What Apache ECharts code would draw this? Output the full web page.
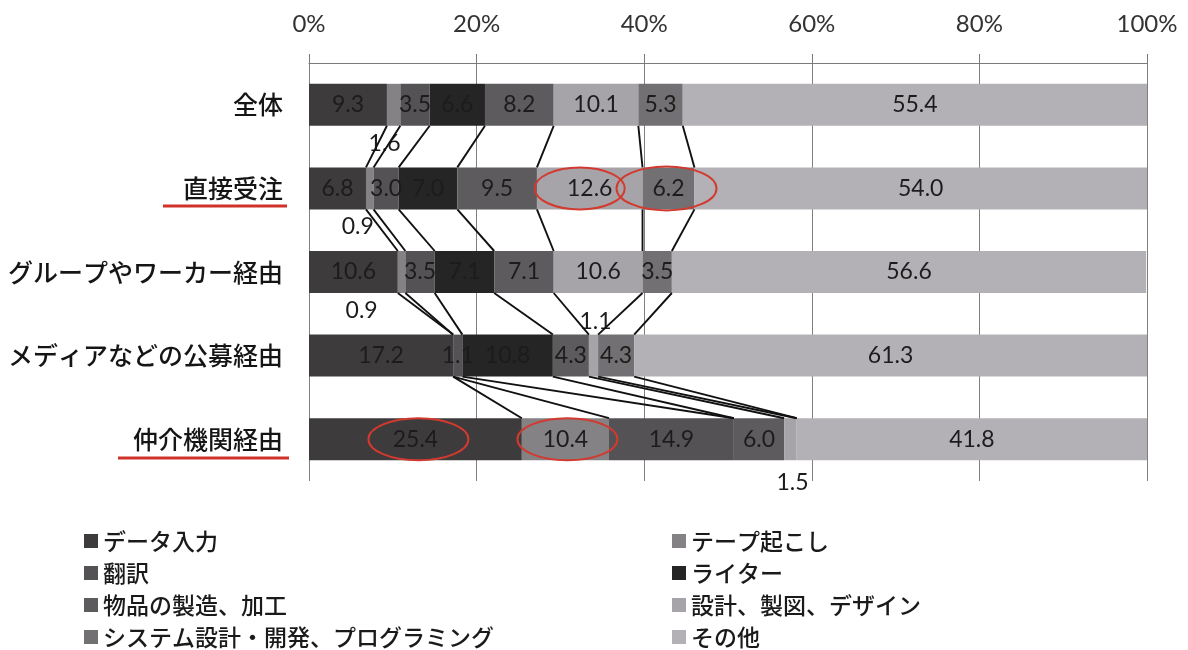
<!DOCTYPE html>
<html>
<head>
<meta charset="utf-8">
<script src="https://cdn.jsdelivr.net/npm/echarts@6/dist/echarts.min.js"></script>
<style>
  html, body { margin: 0; padding: 0; background: #ffffff; }
  #chart { width: 1188px; height: 650px; }
</style>
</head>
<body>
<div id="chart"></div>
<script>
// Job categories by how the work was obtained (share, %)
const categories = ['全体', '直接受注', 'グループやワーカー経由', 'メディアなどの公募経由', '仲介機関経由'];
const seriesNames = [
  'データ入力', 'テープ起こし', '翻訳', 'ライター',
  '物品の製造、加工', '設計、製図、デザイン', 'システム設計・開発、プログラミング', 'その他'
];

const dataEntry         = [9.3, 6.8, 10.6, 17.2, 25.4];
const tapeTranscription = [1.6, 0.9, 0.9, 0.0, 10.4];
const translation       = [3.5, 3.0, 3.5, 1.1, 14.9];
const writer            = [6.6, 7.0, 7.1, 10.8, 0.0];
const manufacturing     = [8.2, 9.5, 7.1, 4.3, 6.0];
const design            = [10.1, 12.6, 10.6, 1.1, 1.5];
const systemDev         = [5.3, 6.2, 3.5, 4.3, 0.0];
const other             = [55.4, 54.0, 56.6, 61.3, 41.8];

const percentTicks = [0, 20, 40, 60, 80, 100];

const seriesValues = [dataEntry, tapeTranscription, translation, writer, manufacturing, design, systemDev, other];

// styling
const colors = ['#3d3b3c', '#858285', '#545254', '#262526', '#5d5b5e', '#a7a4a9', '#737074', '#b4b1b6'];
const BAR_H = 42;
const numFont = 'Lato, "Noto Sans", sans-serif';
const jpFont = '"Noto Sans CJK JP", "Noto Sans", sans-serif';

// labels that sit outside their (thin) segment: [seriesIndex, categoryIndex, position, dx, distance]
const outsideLabels = [
  [1, 0, 'bottom', -9, 6],
  [1, 1, 'bottom', -12, 6],
  [1, 2, 'bottom', -40, 6],
  [5, 3, 'top', 2, 2],
  [5, 4, 'bottom', 2, 11]
];

// circled segments: [categoryIndex, seriesIndex, dx, rx, ry]
const circled = [
  [1, 5, -10, 45, 21],
  [1, 6, -2, 50, 22],
  [4, 0, 3, 50, 21],
  [4, 1, 2, 50, 21]
];

// cumulative segment ends per category
const cum = categories.map((_, c) => {
  let s = 0;
  return seriesValues.map(v => (s += v[c]));
});

const barSeries = seriesNames.map((name, s) => ({
  name,
  type: 'bar',
  stack: 'total',
  barWidth: BAR_H,
  itemStyle: { color: colors[s] },
  label: {
    show: true,
    position: 'inside',
    color: '#1c1c1c',
    fontFamily: numFont,
    fontSize: 23,
    formatter: p => (p.value > 0 ? p.value.toFixed(1) : '')
  },
  data: seriesValues[s].map((v, c) => {
    const o = outsideLabels.find(e => e[0] === s && e[1] === c);
    if (!o) return v;
    return { value: v, label: { position: o[2], offset: [o[3], 0], distance: o[4] } };
  }),
  z: 2
}));

// connector lines between neighbouring bars at each segment boundary
const connectorData = [];
for (let c = 0; c < categories.length - 1; c++) {
  for (let s = 0; s < seriesNames.length - 1; s++) {
    connectorData.push([cum[c][s], c, cum[c + 1][s], c + 1]);
  }
}

const connectorSeries = {
  type: 'custom',
  silent: true,
  encode: { x: [0, 2], y: [1, 3] },
  data: connectorData,
  renderItem: (params, api) => {
    const p1 = api.coord([api.value(0), api.value(1)]);
    const p2 = api.coord([api.value(2), api.value(3)]);
    return {
      type: 'line',
      shape: { x1: p1[0], y1: p1[1] + BAR_H / 2, x2: p2[0], y2: p2[1] - BAR_H / 2 },
      style: { stroke: '#111111', lineWidth: 1.9 }
    };
  },
  z: 3
};

// red ellipses around the highlighted values
const ellipseSeries = {
  type: 'custom',
  silent: true,
  encode: { x: 0, y: 1 },
  data: circled.map(([c, s, dx, rx, ry]) => {
    const start = s === 0 ? 0 : cum[c][s - 1];
    return [start + seriesValues[s][c] / 2, c, dx, rx, ry];
  }),
  renderItem: (params, api) => {
    const p = api.coord([api.value(0), api.value(1)]);
    return {
      type: 'ellipse',
      shape: { cx: p[0] + api.value(2), cy: p[1], rx: api.value(3), ry: api.value(4) },
      style: { fill: 'none', stroke: '#d23a30', lineWidth: 2 }
    };
  },
  z: 5
};

const legendBase = {
  orient: 'vertical',
  top: 529,
  itemWidth: 14,
  itemHeight: 14,
  itemGap: 8,
  padding: 0,
  icon: 'rect',
  selectedMode: false,
  textStyle: { fontFamily: jpFont, fontSize: 23, fontWeight: 500, lineHeight: 24, color: '#1a1a1a' }
};

const chart = echarts.init(document.getElementById('chart'), null, { renderer: 'canvas' });
chart.setOption({
  animation: false,
  color: colors,
  grid: { left: 309, right: 41, top: 63, bottom: 169, containLabel: false },
  xAxis: {
    type: 'value',
    position: 'top',
    min: percentTicks[0],
    max: percentTicks[percentTicks.length - 1],
    interval: percentTicks[1] - percentTicks[0],
    axisLine: { show: true, lineStyle: { color: '#7a7a7a', width: 1 } },
    axisTick: { show: true, length: 9, lineStyle: { color: '#7a7a7a' } },
    splitLine: { show: true, lineStyle: { color: '#808080', width: 1 } },
    axisLabel: {
      margin: 27,
      color: '#333',
      fontFamily: numFont,
      fontSize: 24,
      formatter: '{value}%'
    }
  },
  yAxis: {
    type: 'category',
    inverse: true,
    data: categories,
    axisLine: { show: false },
    axisTick: { show: false },
    axisLabel: { margin: 26, color: '#151515', fontFamily: jpFont, fontWeight: 500, fontSize: 25 }
  },
  legend: [
    Object.assign({}, legendBase, { left: 84, data: [seriesNames[0], seriesNames[2], seriesNames[4], seriesNames[6]] }),
    Object.assign({}, legendBase, { left: 672, data: [seriesNames[1], seriesNames[3], seriesNames[5], seriesNames[7]] })
  ],
  graphic: [
    { type: 'line', shape: { x1: 163, y1: 206, x2: 287, y2: 206 }, style: { stroke: '#d0322a', lineWidth: 3 } },
    { type: 'line', shape: { x1: 118, y1: 458, x2: 289, y2: 458 }, style: { stroke: '#d0322a', lineWidth: 3 } }
  ],
  series: barSeries.concat([connectorSeries, ellipseSeries])
});
</script>
</body>
</html>
